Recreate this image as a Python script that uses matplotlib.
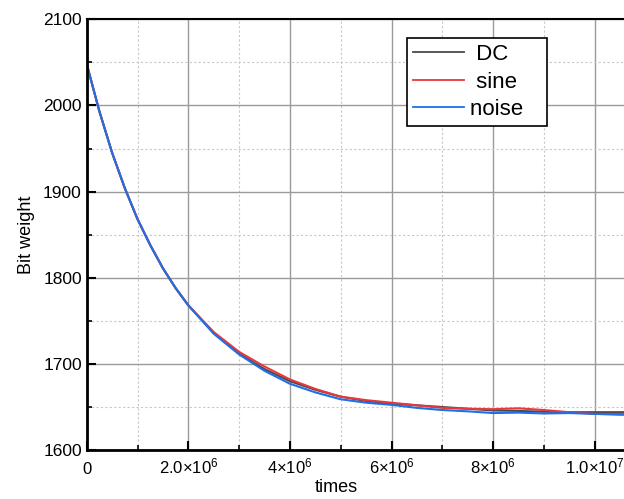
import numpy as np
import matplotlib
matplotlib.use("Agg")
from matplotlib import pyplot as plt
from matplotlib.ticker import MultipleLocator, FixedLocator

# ===============================
# data
# ===============================
times = np.array([0, 0.25, 0.5, 0.75, 1.0, 1.25, 1.5, 1.75, 2.0, 2.5, 3.0, 3.5,
                  4.0, 4.5, 5.0, 5.5, 6.0, 6.5, 7.0, 7.5, 8.0, 8.5, 9.0, 9.5,
                  10.0, 10.5, 11.0]) * 1e6

dc = [2048, 1993, 1945, 1904, 1868, 1838, 1811, 1788, 1768, 1736, 1712, 1694,
      1680, 1670, 1662, 1657, 1654, 1652, 1650, 1648, 1646, 1645.5, 1644.5, 1644,
      1644, 1644, 1644]
sine = [2048, 1993, 1945, 1904, 1868, 1838, 1811, 1788, 1768, 1737, 1714, 1697,
        1682, 1671, 1662, 1658, 1655, 1652, 1649, 1648, 1647.5, 1648.5, 1646.5, 1644,
        1642, 1642, 1642]
noise = [2048, 1993, 1945, 1904, 1868, 1838, 1811, 1788, 1768, 1735, 1711, 1692,
         1677, 1667, 1659, 1655, 1652.5, 1649, 1646.5, 1645, 1643, 1643.5, 1642.5, 1643,
         1642, 1641, 1641]

xtick_vals = [0, 2e6, 4e6, 6e6, 8e6, 1e7]
xtick_labels = ["0", r"$2.0{\times}10^{6}$", r"$4{\times}10^{6}$", r"$6{\times}10^{6}$",
                r"$8{\times}10^{6}$", r"$1.0{\times}10^{7}$"]

# ===============================
# style
# ===============================
plt.rcParams["font.family"] = ["Liberation Sans", "DejaVu Sans"]
plt.rcParams["mathtext.fontset"] = "custom"
plt.rcParams["mathtext.rm"] = "Liberation Sans"
plt.rcParams["mathtext.it"] = "Liberation Sans"
plt.rcParams["mathtext.bf"] = "Liberation Sans:bold"

fig = plt.figure(figsize=(6.24, 4.99), dpi=100)
ax = fig.add_axes([0.139, 0.098, 0.8955, 0.8633])

ax.plot(times, dc, color="#4a4a4a", lw=1.5, label=" DC")
ax.plot(times, sine, color="#e8383c", lw=1.5, label=" sine")
ax.plot(times, noise, color="#1f6fe6", lw=1.5, label="noise   ")

ax.set_xlim(0, 1.1e7)
ax.set_ylim(1600, 2100)

ax.xaxis.set_major_locator(FixedLocator(xtick_vals))
ax.set_xticklabels(xtick_labels, fontsize=12)
ax.xaxis.set_minor_locator(MultipleLocator(1e6))
ax.yaxis.set_major_locator(MultipleLocator(100))
ax.yaxis.set_minor_locator(MultipleLocator(50))
ax.tick_params(axis="y", labelsize=12.5)

ax.tick_params(which="major", direction="in", length=6.5, width=1.5, color="black",
               top=False, right=False)
ax.tick_params(which="minor", direction="in", length=3.5, width=1.2, color="black",
               top=False, right=False)
ax.tick_params(axis="x", which="major", pad=17)
ax.tick_params(axis="y", which="major", pad=3.5)
for lbl in ax.get_xticklabels():
    lbl.set_va("baseline")

ax.grid(which="major", color="#9a9a9a", lw=1.0, ls="-")
ax.grid(which="minor", color="#c8c8c8", lw=0.8, ls=(0, (2, 2)))
ax.set_axisbelow(True)

for side in ["left", "bottom"]:
    ax.spines[side].set_linewidth(2)
ax.spines["top"].set_linewidth(1.5)
ax.spines["right"].set_visible(False)

ax.set_xlabel("times", fontsize=13)
ax.xaxis.set_label_coords(0.447, -0.068)
ax.set_ylabel("Bit weight", fontsize=13)
ax.yaxis.set_label_coords(-0.092, 0.5)

leg = ax.legend(loc="upper left", bbox_to_anchor=(407 / 624, 1 - 38.3 / 499),
                bbox_transform=fig.transFigure, borderaxespad=0, fontsize=16,
                frameon=True, fancybox=False, edgecolor="black", framealpha=1,
                handlelength=2.3, handletextpad=0.3, borderpad=0.25, labelspacing=0.3)
leg.get_frame().set_linewidth(1.2)
for line in leg.get_lines():
    line.set_linewidth(1.3)

plt.savefig("out.png", dpi=100)
